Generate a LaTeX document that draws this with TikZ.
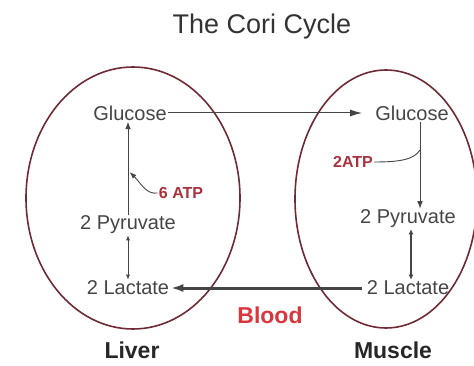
\documentclass[tikz,border=0pt]{standalone}
\usepackage{fontspec}
\setmainfont{Liberation Sans}
\usetikzlibrary{arrows.meta}

\definecolor{rim}{HTML}{6E2A35}
\definecolor{atpred}{HTML}{A8323E}
\definecolor{bloodred}{HTML}{D9363E}
\definecolor{ink}{HTML}{454545}

\begin{document}
\begin{tikzpicture}[x=1pt, y=-1pt, >=Latex,
    met/.style={text=ink, font=\fontsize{20}{24}\selectfont, inner sep=1pt},
    atp/.style={text=atpred, font=\bfseries\fontsize{16}{18}\selectfont, inner sep=1pt},
    organ/.style={text=black!85, font=\bfseries\fontsize{23}{27}\selectfont}]

    \useasboundingbox (0,0) rectangle (474,366);

    % organs: liver and muscle
    \draw[rim, line width=1.6] (133,198) ellipse [x radius=107, y radius=131];
    \draw[rim, line width=1.6] (386,199) ellipse [x radius=91, y radius=129];

    % title
    \node[text=black!80, font=\fontsize{27}{31}\selectfont] (title) at (262,27) {The Cori Cycle};

    % metabolites
    \node[met] (gluL) at (130,113) {Glucose};
    \node[met] (pyrL) at (128,225) {2 Pyruvate};
    \node[met] (lacL) at (128,288) {2 Lactate};
    \node[met] (gluM) at (412,113) {Glucose};
    \node[met] (pyrM) at (408,219) {2 Pyruvate};
    \node[met] (lacM) at (408,288) {2 Lactate};

    % energy
    \node[atp] (atpL) at (181,193) {6 ATP};
    \node[atp] (atpM) at (353,162) {2ATP};

    % labels
    \node[text=bloodred, font=\bfseries\fontsize{23}{27}\selectfont] (blood) at (270,315) {Blood};
    \node[organ] (liver) at (132,350) {Liver};
    \node[organ] (muscle) at (393,350) {Muscle};

    % liver: pyruvate -> glucose
    \draw[->, ink, line width=1] (pyrL.north) -- (pyrL.north |- gluL.south);
    \draw[{Latex[length=5,width=4]}-{Latex[length=5,width=4]}, ink, line width=0.8]
        (pyrL.south) -- (pyrL.south |- lacL.north);
    \coordinate (jL) at (129.5,172);
    \draw[-{Latex[length=7,width=5]}, ink, line width=0.9]
        (atpL.west) .. controls (146,195) and (140,182) .. (jL);

    % muscle: glucose -> pyruvate
    \draw[->, ink, line width=1] ([xshift=8]gluM.south) -- ([xshift=8]gluM.south |- pyrM.north);
    \draw[{Latex[length=5,width=5]}-{Latex[length=5,width=5]}, ink, line width=2.2]
        ([xshift=3]pyrM.south) -- ([xshift=3]pyrM.south |- lacM.north);
    \coordinate (jM) at (420,150);
    \draw[ink, line width=0.9] (atpM.east) .. controls (398,162) and (414,160) .. (jM);

    % blood transport
    \draw[-{Latex[length=12,width=7]}, ink, line width=1, shorten >=12] (gluL.east) -- (gluM.west);
    \draw[-{Latex[length=13,width=8]}, ink, line width=3, shorten <=4] (lacM.west) -- (lacL.east);

\end{tikzpicture}
\end{document}
